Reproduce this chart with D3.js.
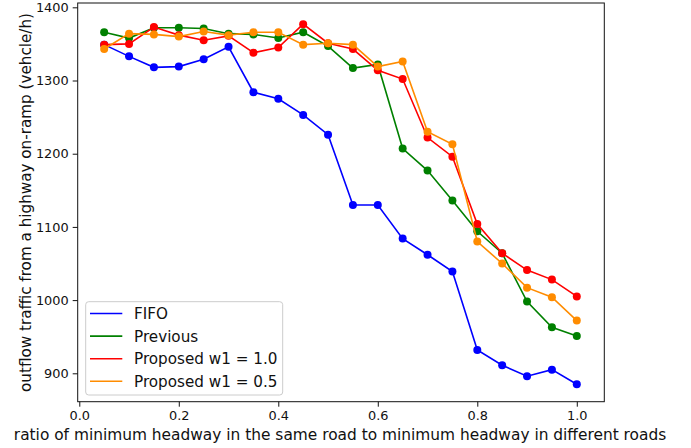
<!DOCTYPE html>
<html>
<head>
<meta charset="utf-8">
<script src="https://cdn.jsdelivr.net/npm/d3@7"></script>
<style>
  body { margin: 0; background: #fff; }
  svg { font-family: "DejaVu Sans", sans-serif; }
</style>
</head>
<body>
<svg width="691" height="448"></svg>
<script>
const ratios = [0.05, 0.1, 0.15, 0.2, 0.25, 0.3, 0.35, 0.4, 0.45, 0.5,
                0.55, 0.6, 0.65, 0.7, 0.75, 0.8, 0.85, 0.9, 0.95, 1.0];
const fifo = [1349, 1333, 1318, 1319, 1329, 1346, 1284, 1275, 1253, 1226,
              1130, 1130, 1084, 1062, 1039, 932, 911, 896, 905, 885];
const previous = [1366, 1358, 1372, 1372, 1371, 1364, 1363, 1358, 1366, 1347,
                  1317, 1322, 1207, 1177, 1136, 1094, 1064, 998, 963, 951];
const proposed10 = [1349, 1350, 1373, 1362, 1355, 1361, 1338, 1345, 1377, 1351,
                    1343, 1314, 1302, 1222, 1196, 1104, 1064, 1041, 1028, 1005];
const proposed05 = [1343, 1364, 1363, 1360, 1367, 1362, 1366, 1366, 1349, 1351,
                    1349, 1319, 1326, 1230, 1213, 1080, 1050, 1017, 1004, 972];
const seriesNames = ["FIFO", "Previous", "Proposed w1 = 1.0", "Proposed w1 = 0.5"];
const seriesColors = ["#0000ff", "#008000", "#ff0000", "#ff8c00"];
const xTicks = [0.0, 0.2, 0.4, 0.6, 0.8, 1.0];
const yTicks = [900, 1000, 1100, 1200, 1300, 1400];

const svg = d3.select("svg");
const plotL = 77.7, plotR = 604.3, plotT = 3, plotB = 401.7;

const x = d3.scaleLinear().domain([-0.0032, 1.0553]).range([plotL, plotR]);
const y = d3.scaleLinear().domain([861.2, 1405.9]).range([plotB, plotT]);

const allSeries = [fifo, previous, proposed10, proposed05];

// axes
const xAxis = svg.append("g")
  .attr("transform", `translate(0,${plotB})`)
  .call(d3.axisBottom(x).tickValues(xTicks).tickFormat(d3.format(".1f")).tickSize(5).tickPadding(4));
const yAxis = svg.append("g")
  .attr("transform", `translate(${plotL},0)`)
  .call(d3.axisLeft(y).tickValues(yTicks).tickFormat(d3.format("d")).tickSize(5).tickPadding(4));
[xAxis, yAxis].forEach(g => {
  g.select(".domain").remove();
  g.selectAll("text").attr("font-size", 12.9).attr("fill", "#111").attr("font-family", "DejaVu Sans");
  g.selectAll("line").attr("stroke", "#111").attr("stroke-width", 1);
});

// lines + markers
const line = d3.line().x((d, i) => x(ratios[i])).y(d => y(d));
allSeries.forEach((s, k) => {
  const g = svg.append("g");
  g.append("path")
    .datum(s)
    .attr("d", line)
    .attr("fill", "none")
    .attr("stroke", seriesColors[k])
    .attr("stroke-width", 1.6);
  g.selectAll("circle")
    .data(s)
    .enter()
    .append("circle")
    .attr("cx", (d, i) => x(ratios[i]))
    .attr("cy", d => y(d))
    .attr("r", 4)
    .attr("fill", seriesColors[k]);
});

// frame
svg.append("rect")
  .attr("x", plotL).attr("y", plotT)
  .attr("width", plotR - plotL).attr("height", plotB - plotT)
  .attr("fill", "none").attr("stroke", "#111").attr("stroke-width", 1);

// legend
const lg = svg.append("g");
lg.append("rect")
  .attr("x", 85.7).attr("y", 301.7).attr("width", 197).attr("height", 93.3)
  .attr("rx", 3).attr("fill", "#fff").attr("fill-opacity", 0.8)
  .attr("stroke", "#ccc").attr("stroke-width", 1);
seriesNames.forEach((name, i) => {
  const cy = 313.5 + i * 22.6;
  lg.append("line")
    .attr("x1", 90).attr("x2", 122.3).attr("y1", cy).attr("y2", cy)
    .attr("stroke", seriesColors[i]).attr("stroke-width", 1.6);
  lg.append("text")
    .attr("x", 134).attr("y", cy).attr("dy", "0.36em")
    .attr("font-size", 15.2).attr("fill", "#111")
    .text(name);
});

// axis labels
svg.append("text")
  .attr("x", 340).attr("y", 439.5)
  .attr("text-anchor", "middle").attr("font-size", 15.4).attr("fill", "#111")
  .text("ratio of minimum headway in the same road to minimum headway in different roads");
svg.append("text")
  .attr("transform", `translate(31,202.5) rotate(-90)`)
  .attr("text-anchor", "middle").attr("font-size", 15.2).attr("fill", "#111")
  .text("outflow traffic from a highway on-ramp (vehcle/h)");
</script>
</body>
</html>
